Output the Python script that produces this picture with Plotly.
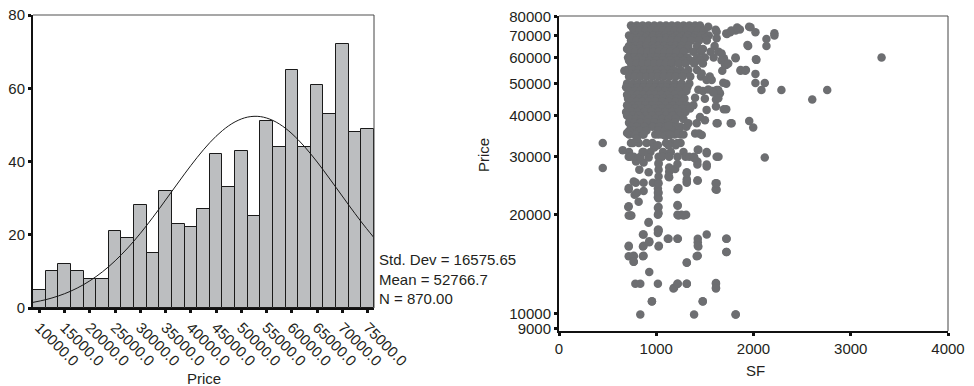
import plotly.graph_objects as go

# ---------------- Histogram data (left) ----------------
BIN_CENTERS = [10000, 12500, 15000, 17500, 20000, 22500, 25000, 27500, 30000,
               32500, 35000, 37500, 40000, 42500, 45000, 47500, 50000, 52500,
               55000, 57500, 60000, 62500, 65000, 67500, 70000, 72500, 75000]
BIN_COUNTS = [5, 10, 12, 10, 8, 8, 21, 19, 28, 15, 32, 23, 22, 27, 42, 33, 43,
              25, 51, 44, 65, 44, 61, 53, 72, 48, 49]
BIN_WIDTH = 2500
X_TICKS = [10000, 15000, 20000, 25000, 30000, 35000, 40000, 45000, 50000,
           55000, 60000, 65000, 70000, 75000]
X_TICK_TEXT = ["10000.0", "15000.0", "20000.0", "25000.0", "30000.0", "35000.0",
               "40000.0", "45000.0", "50000.0", "55000.0", "60000.0", "65000.0",
               "70000.0", "75000.0"]
STD_DEV = "16575.65"
MEAN = "52766.7"
N_COUNT = "870.00"

# normal curve (at bin edges)
CURVE_X = [8750, 11250, 13750, 16250, 18750, 21250, 23750, 26250, 28750, 31250,
           33750, 36250, 38750, 41250, 43750, 46250, 48750, 51250, 53750, 56250,
           58750, 61250, 63750, 66250, 68750, 71250, 73750, 76250]
CURVE_Y = [1.54, 2.27, 3.28, 4.62, 6.37, 8.59, 11.31, 14.56, 18.32, 22.54,
           27.11, 31.87, 36.61, 41.12, 45.15, 48.45, 50.83, 52.13, 52.26, 51.20,
           49.05, 45.92, 42.03, 37.60, 32.88, 28.11, 23.49, 19.19]

# ---------------- Scatter data (right) ----------------
ROW_PRICES = [75000, 73700, 72500, 70000, 68700, 67500, 65000, 63700, 62500,
              60000, 58700, 57500, 55000, 53700, 52500, 50000, 48700, 47500,
              46200, 45000, 44000, 43000, 42000, 41000, 40000, 39000, 38000,
              37000, 36000, 35000, 33000, 31000]
ROW_SF = [
    [740, 800, 860, 920, 980, 1040, 1100, 1160, 1220, 1280, 1340, 1400, 1450],
    [760, 830, 900, 970, 1040, 1110, 1180, 1250, 1320, 1390],
    [770, 830, 890, 950, 1010, 1070, 1130, 1190, 1250, 1310, 1370, 1430, 1490],
    [720, 790, 850, 910, 970, 1030, 1090, 1150, 1210, 1270, 1330, 1400, 1470, 1540],
    [750, 820, 890, 960, 1030, 1100, 1170, 1240, 1310, 1380, 1500],
    [740, 800, 860, 920, 980, 1040, 1100, 1160, 1220, 1290, 1360, 1440, 1520],
    [720, 780, 840, 900, 960, 1020, 1080, 1140, 1200, 1260, 1330, 1420, 1600],
    [700, 760, 830, 900, 970, 1040, 1110, 1180, 1250, 1320, 1480],
    [730, 790, 850, 910, 970, 1030, 1090, 1150, 1210, 1280, 1380, 1460, 1560, 1640],
    [710, 770, 830, 890, 950, 1010, 1070, 1130, 1190, 1250, 1320, 1420, 1500, 1590],
    [720, 790, 860, 930, 1000, 1070, 1140, 1210, 1280, 1350, 1450],
    [740, 800, 860, 920, 980, 1040, 1100, 1160, 1230, 1300, 1390, 1480],
    [700, 760, 820, 880, 940, 1000, 1060, 1120, 1180, 1250, 1330, 1420],
    [730, 800, 870, 940, 1010, 1080, 1150, 1220, 1290],
    [720, 780, 840, 900, 960, 1020, 1080, 1140, 1200, 1270, 1350, 1460, 1550],
    [700, 760, 820, 880, 940, 1000, 1060, 1120, 1190, 1260, 1340],
    [690, 740, 810, 870, 930, 990, 1050, 1110, 1180, 1250, 1320],
    [720, 780, 840, 900, 960, 1020, 1090, 1160, 1230, 1310, 1480, 1580],
    [700, 750, 810, 870, 930, 990, 1050, 1120, 1190, 1260],
    [710, 770, 830, 890, 950, 1010, 1070, 1140, 1210, 1290, 1500],
    [740, 800, 860, 920, 990, 1060, 1130, 1200, 1270],
    [700, 760, 820, 890, 960, 1030, 1100, 1170, 1240, 1310],
    [720, 780, 850, 920, 990, 1060, 1130, 1200, 1270],
    [690, 750, 810, 880, 950, 1020, 1090, 1160, 1230, 1300],
    [700, 760, 820, 890, 960, 1030, 1100, 1170, 1240],
    [730, 790, 850, 920, 990, 1060, 1130, 1200, 1280],
    [720, 780, 840, 910, 980, 1050, 1120, 1190],
    [740, 800, 880, 960, 1030, 1100, 1170, 1250, 1310],
    [760, 830, 900, 1020, 1090, 1160, 1230],
    [720, 780, 860, 990, 1060, 1120, 1190, 1250],
    [740, 820, 900, 960, 1100, 1160, 1250],
    [720, 860, 940, 1070, 1150, 1280],
]
OUTER_SF = [
    450, 450, 655, 672, 3317, 2758, 2604, 2287, 2116, 2215, 2215, 2133, 2133, 2116,
    2020, 2020, 2082, 2030, 2020, 1969, 1945, 1997, 1956, 1915, 1867, 1860, 1816,
    1761, 1727, 1816, 1775, 1720, 1720, 1720, 1679, 1696, 1631, 1611, 1638, 1655,
    1614, 1614, 1621, 1640, 1611, 1611, 1720, 1720, 1614, 1614, 1816, 1519, 1427,
    1433, 1416, 1478, 1389, 1314, 1314, 1218, 1184, 1218, 1119, 1024, 1017, 1017,
    928, 863, 863, 928, 955, 1017, 836, 785, 836, 717, 717, 768, 768, 863, 922,
    717, 717, 744, 1017, 1017, 1218, 1260, 1307, 1218, 819, 778, 717, 790, 870,
    965, 870, 1017, 1017, 1017, 1017, 1218, 1314, 1314, 1423, 1314, 1133, 1133,
    1133, 1195, 1218, 922, 826, 870, 922, 792, 717, 768, 836, 870, 1024, 1024,
    1060, 1133, 1218, 1300, 1389, 1423, 1423, 1519, 1519, 1519, 1433, 980, 1017,
    1126, 1200, 1218, 760, 800, 870, 720, 1024, 1092, 1143, 1228, 1280, 1400,
    1440, 1330, 1416, 1126, 1468, 1340, 1390, 1427, 1519, 1621, 1621, 1314, 1314,
    1427, 1228, 1221, 1228, 1280, 1024, 1024, 1024, 1024, 1024, 1024, 1024, 1024,
    1024, 1126, 921, 870, 1024, 1126, 1222, 1427, 1427, 1724, 1724, 717, 768, 768,
    870, 870, 928, 1027, 1177, 1221, 1314, 1314, 1427, 1614, 1614, 956, 1478,
    1817, 734, 768, 717, 802, 712, 734, 700,
    1535, 1621, 1621, 1720, 1771, 1832, 1955, 1938, 2025, 1672, 1672, 1815, 1867,
    1922, 1707, 1740, 1689, 1621, 1638, 1535, 1586, 1467, 1518, 1570, 1433, 1399,
    1695, 1766, 1621, 1348, 1382, 1518, 1450, 1501,
]
OUTER_PRICE = [
    33000, 27700, 31400, 54700, 60000, 47800, 44700, 47800, 29800, 71100, 70000,
    68300, 65000, 50200, 50200, 53500, 47800, 59000, 71600, 74100, 65000, 36800,
    38500, 54700, 54700, 72900, 72400, 71600, 70700, 59700, 37900, 49900, 41800,
    56900, 54700, 59700, 37900, 72800, 47800, 46700, 44700, 42600, 30000, 30000,
    24900, 23900, 16900, 15400, 12400, 12000, 9950, 17400, 16900, 16000, 14960,
    10900, 9950, 14300, 12350, 12350, 12000, 16900, 16900, 16000, 17600, 18000,
    16600, 17400, 16000, 13400, 10900, 12350, 12350, 12350, 9950, 16000, 14960,
    14960, 14400, 14960, 19000, 21200, 19900, 19900, 20000, 21000, 20000, 20000,
    20000, 21400, 21900, 23000, 23900, 25000, 25000, 25000, 23600, 22600, 23300,
    24000, 25000, 23900, 25000, 25600, 25400, 26900, 26000, 27000, 27800, 27500,
    28500, 26900, 27400, 28800, 29800, 29000, 30000, 30000, 30000, 31000, 28500,
    30000, 30000, 30000, 30000, 30000, 30000, 29000, 28400, 30700, 31000, 28000,
    31500, 32000, 32500, 32500, 32500, 33000, 33000, 34000, 35000, 35900, 35000,
    34700, 34900, 35300, 35000, 35300, 35300, 37900, 37900, 37300, 34900, 30000,
    29700, 31500, 28400, 23800, 24900, 26700, 25200, 25400, 24100, 21300, 19900,
    19900, 18000, 21100, 20200, 23300, 22400, 24900, 26100, 27400, 28700, 26100,
    18900, 17400, 17800, 16900, 16900, 16500, 16100, 16900, 15400, 16100, 15000,
    14400, 16100, 15000, 16500, 16100, 11930, 12350, 12350, 14330, 15000, 12350,
    11930, 10920, 10920, 9950, 30000, 25200, 24100, 23300, 21100, 19900, 35400,
    74400, 71800, 68600, 71000, 72500, 74000, 74400, 65500, 59300, 61700, 58800,
    60000, 55000, 55000, 57000, 57500, 50300, 47800, 45100, 48000, 47000, 53600,
    51300, 51300, 47900, 45300, 41800, 37900, 37900, 42000, 43000, 41600, 39600,
    38700,
]
Y2_TICKS = [9000, 10000, 20000, 30000, 40000, 50000, 60000, 70000, 80000]
X2_TICKS = [0, 1000, 2000, 3000, 4000]

# ---------------- build ----------------
sc_x, sc_y = [], []
for price, sfs in zip(ROW_PRICES, ROW_SF):
    for s in sfs:
        sc_x.append(s)
        sc_y.append(price)
sc_x += OUTER_SF
sc_y += OUTER_PRICE

W, H = 974, 386
OFF = 8  # page body margin
FONT = "Liberation Sans, Arial, sans-serif"
TXT = "#231f20"


def px(x):
    return (x - OFF) / W


def py(y):
    return 1 - (y - OFF) / H


fig = go.Figure()
fig.add_trace(go.Bar(
    x=BIN_CENTERS, y=BIN_COUNTS, width=BIN_WIDTH,
    marker=dict(color="#bcbec0", line=dict(color="#1a1a1a", width=1)),
    xaxis="x", yaxis="y", showlegend=False, hoverinfo="x+y"))
fig.add_trace(go.Scatter(
    x=CURVE_X, y=CURVE_Y, mode="lines",
    line=dict(color="#1a1a1a", width=1, shape="spline"),
    xaxis="x", yaxis="y", showlegend=False))
fig.add_trace(go.Scatter(
    x=sc_x, y=sc_y, mode="markers",
    marker=dict(color="#6d6e71", size=8.5, line=dict(width=0)),
    xaxis="x2", yaxis="y2", showlegend=False))

axis_common = dict(
    showgrid=False, zeroline=False, showline=True, linecolor="#111",
    linewidth=2, ticks="outside", ticklen=3, tickwidth=3, tickcolor="#111",
    automargin=False, ticklabeloverflow="allow",
    tickfont=dict(family=FONT, size=15, color=TXT))

fig.update_layout(
    template="none",
    width=W, height=H, autosize=False,
    margin=dict(l=0, r=0, t=0, b=0, pad=0),
    paper_bgcolor="white", plot_bgcolor="white",
    bargap=0,
    font=dict(family=FONT, size=15, color=TXT),
    xaxis=dict(domain=[px(33), px(374)], range=[8750, 76250],
               tickvals=X_TICKS, ticktext=X_TICK_TEXT, tickangle=45,
               anchor="y", **axis_common),
    yaxis=dict(domain=[py(308), py(15)], range=[0, 80],
               tickvals=[0, 20, 40, 60, 80], anchor="x", **axis_common),
    xaxis2=dict(domain=[px(559), px(948)], range=[0, 4000],
                tickvals=X2_TICKS, anchor="y2", **axis_common),
    yaxis2=dict(domain=[py(331), py(16)], type="log",
                range=[3.948, 4.904], tickvals=Y2_TICKS,
                ticktext=[str(v) for v in Y2_TICKS], anchor="x2", **axis_common),
)

# frame lines (top grey, right dark)
for xr, yr in (("x", "y"), ("x2", "y2")):
    fig.add_shape(type="line", xref=f"{xr} domain", yref=f"{yr} domain",
                  x0=0, x1=1, y0=1, y1=1, line=dict(color="#8a8a8a", width=1.5))
    fig.add_shape(type="line", xref=f"{xr} domain", yref=f"{yr} domain",
                  x0=1, x1=1, y0=0, y1=1, line=dict(color="#444", width=1))

fig.add_annotation(
    xref="paper", yref="paper", x=px(377), y=py(279), xanchor="left",
    yanchor="middle", align="left", showarrow=False,
    text=f"Std. Dev = {STD_DEV}<br>Mean = {MEAN}<br>N = {N_COUNT}",
    font=dict(family=FONT, size=15, color=TXT))
fig.add_annotation(xref="paper", yref="paper", x=px(204), y=py(378),
                   text="Price", showarrow=False, xanchor="center",
                   yanchor="middle", font=dict(family=FONT, size=15, color=TXT))
fig.add_annotation(xref="paper", yref="paper", x=px(483), y=py(155),
                   text="Price", showarrow=False, textangle=-90,
                   xanchor="center", yanchor="middle",
                   font=dict(family=FONT, size=15, color=TXT))
fig.add_annotation(xref="paper", yref="paper", x=px(755), y=py(370),
                   text="SF", showarrow=False, xanchor="center",
                   yanchor="middle", font=dict(family=FONT, size=15, color=TXT))

fig.write_html("out.html")
